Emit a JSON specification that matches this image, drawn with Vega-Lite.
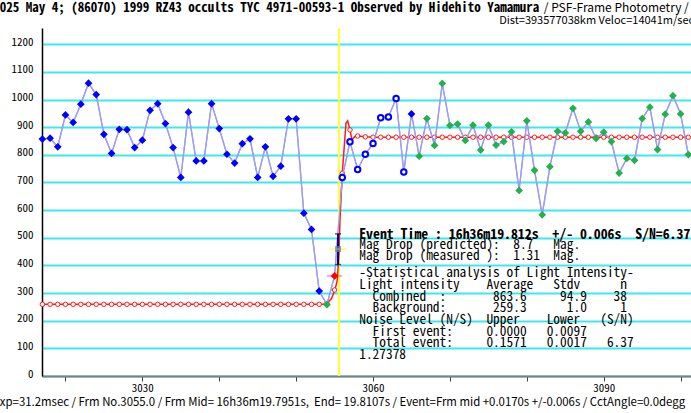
{
  "$schema": "https://vega.github.io/schema/vega-lite/v6.json",
  "width": 649,
  "height": 348,
  "autosize": {"type": "none"},
  "padding": {"left": 42, "top": 28, "right": 0, "bottom": 37},
  "background": "white",
  "config": {"view": {"stroke": null}, "font": "Noto Sans CJK JP"},
  "datasets": {
    "one": [{}],
    "obs": [
      {"f":3017,"v":857,"g":"pre"},{"f":3018,"v":860,"g":"pre"},{"f":3019,"v":829,"g":"pre"},{"f":3020,"v":944,"g":"pre"},
      {"f":3021,"v":917,"g":"pre"},{"f":3022,"v":983,"g":"pre"},{"f":3023,"v":1059,"g":"pre"},{"f":3024,"v":1018,"g":"pre"},
      {"f":3025,"v":874,"g":"pre"},{"f":3026,"v":805,"g":"pre"},{"f":3027,"v":892,"g":"pre"},{"f":3028,"v":891,"g":"pre"},
      {"f":3029,"v":826,"g":"pre"},{"f":3030,"v":853,"g":"pre"},{"f":3031,"v":961,"g":"pre"},{"f":3032,"v":985,"g":"pre"},
      {"f":3033,"v":913,"g":"pre"},{"f":3034,"v":826,"g":"pre"},{"f":3035,"v":718,"g":"pre"},{"f":3036,"v":954,"g":"pre"},
      {"f":3037,"v":778,"g":"pre"},{"f":3038,"v":778,"g":"pre"},{"f":3039,"v":985,"g":"pre"},{"f":3040,"v":895,"g":"pre"},
      {"f":3041,"v":802,"g":"pre"},{"f":3042,"v":770,"g":"pre"},{"f":3043,"v":840,"g":"pre"},{"f":3044,"v":858,"g":"pre"},
      {"f":3045,"v":718,"g":"pre"},{"f":3046,"v":829,"g":"pre"},{"f":3047,"v":722,"g":"pre"},{"f":3048,"v":759,"g":"pre"},
      {"f":3049,"v":930,"g":"pre"},{"f":3050,"v":930,"g":"pre"},{"f":3051,"v":589,"g":"pre"},{"f":3052,"v":530,"g":"pre"},
      {"f":3053,"v":307,"g":"pre"},{"f":3054,"v":258,"g":"low"},{"f":3055,"v":362,"g":"event"},{"f":3056,"v":718,"g":"open"},
      {"f":3057,"v":847,"g":"open"},{"f":3058,"v":747,"g":"open"},{"f":3059,"v":802,"g":"open"},{"f":3060,"v":841,"g":"open"},
      {"f":3061,"v":934,"g":"open"},{"f":3062,"v":937,"g":"open"},{"f":3063,"v":1004,"g":"open"},{"f":3064,"v":738,"g":"open"},
      {"f":3065,"v":948,"g":"pre"},{"f":3066,"v":795,"g":"post"},{"f":3067,"v":931,"g":"post"},{"f":3068,"v":834,"g":"post"},
      {"f":3069,"v":1058,"g":"post"},{"f":3070,"v":906,"g":"post"},{"f":3071,"v":911,"g":"post"},{"f":3072,"v":852,"g":"post"},
      {"f":3073,"v":907,"g":"post"},{"f":3074,"v":817,"g":"post"},{"f":3075,"v":907,"g":"post"},{"f":3076,"v":835,"g":"post"},
      {"f":3077,"v":848,"g":"post"},{"f":3078,"v":883,"g":"post"},{"f":3079,"v":671,"g":"post"},{"f":3080,"v":923,"g":"post"},
      {"f":3081,"v":744,"g":"post"},{"f":3082,"v":583,"g":"post"},{"f":3083,"v":757,"g":"post"},{"f":3084,"v":885,"g":"post"},
      {"f":3085,"v":879,"g":"post"},{"f":3086,"v":968,"g":"post"},{"f":3087,"v":885,"g":"post"},{"f":3088,"v":919,"g":"post"},
      {"f":3089,"v":859,"g":"post"},{"f":3090,"v":882,"g":"post"},{"f":3091,"v":848,"g":"post"},{"f":3092,"v":734,"g":"post"},
      {"f":3093,"v":787,"g":"post"},{"f":3094,"v":780,"g":"post"},{"f":3095,"v":931,"g":"post"},{"f":3096,"v":972,"g":"post"},
      {"f":3097,"v":819,"g":"post"},{"f":3098,"v":947,"g":"post"},{"f":3099,"v":1014,"g":"post"},{"f":3100,"v":948,"g":"post"},
      {"f":3101,"v":801,"g":"post"}
    ],
    "model": [
      {"f":3017,"v":259.3},{"f":3053.5,"v":259.3},{"f":3054,"v":262},{"f":3054.6,"v":280},{"f":3055.05,"v":311},
      {"f":3055.35,"v":347},{"f":3055.57,"v":444},{"f":3055.7,"v":564},{"f":3056,"v":733},{"f":3056.48,"v":914},
      {"f":3056.7,"v":923},{"f":3057,"v":890},{"f":3057.26,"v":854},{"f":3057.65,"v":866},{"f":3058.08,"v":868},
      {"f":3059,"v":865},{"f":3060,"v":863.6},{"f":3101,"v":863.6}
    ],
    "modelpts": [
      {"f":3017,"v":259.3},{"f":3018,"v":259.3},{"f":3019,"v":259.3},{"f":3020,"v":259.3},{"f":3021,"v":259.3},
      {"f":3022,"v":259.3},{"f":3023,"v":259.3},{"f":3024,"v":259.3},{"f":3025,"v":259.3},{"f":3026,"v":259.3},
      {"f":3027,"v":259.3},{"f":3028,"v":259.3},{"f":3029,"v":259.3},{"f":3030,"v":259.3},{"f":3031,"v":259.3},
      {"f":3032,"v":259.3},{"f":3033,"v":259.3},{"f":3034,"v":259.3},{"f":3035,"v":259.3},{"f":3036,"v":259.3},
      {"f":3037,"v":259.3},{"f":3038,"v":259.3},{"f":3039,"v":259.3},{"f":3040,"v":259.3},{"f":3041,"v":259.3},
      {"f":3042,"v":259.3},{"f":3043,"v":259.3},{"f":3044,"v":259.3},{"f":3045,"v":259.3},{"f":3046,"v":259.3},
      {"f":3047,"v":259.3},{"f":3048,"v":259.3},{"f":3049,"v":259.3},{"f":3050,"v":259.3},{"f":3051,"v":259.3},
      {"f":3052,"v":259.3},{"f":3053,"v":259.3},{"f":3054,"v":262},{"f":3055,"v":311},{"f":3056,"v":733},
      {"f":3057,"v":890},{"f":3058,"v":868},{"f":3059,"v":865},{"f":3060,"v":863.6},{"f":3061,"v":863.6},
      {"f":3062,"v":863.6},{"f":3063,"v":863.6},{"f":3064,"v":863.6},{"f":3065,"v":863.6},{"f":3066,"v":863.6},
      {"f":3067,"v":863.6},{"f":3068,"v":863.6},{"f":3069,"v":863.6},{"f":3070,"v":863.6},{"f":3071,"v":863.6},
      {"f":3072,"v":863.6},{"f":3073,"v":863.6},{"f":3074,"v":863.6},{"f":3075,"v":863.6},{"f":3076,"v":863.6},
      {"f":3077,"v":863.6},{"f":3078,"v":863.6},{"f":3079,"v":863.6},{"f":3080,"v":863.6},{"f":3081,"v":863.6},
      {"f":3082,"v":863.6},{"f":3083,"v":863.6},{"f":3084,"v":863.6},{"f":3085,"v":863.6},{"f":3086,"v":863.6},
      {"f":3087,"v":863.6},{"f":3088,"v":863.6},{"f":3089,"v":863.6},{"f":3090,"v":863.6},{"f":3091,"v":863.6},
      {"f":3092,"v":863.6},{"f":3093,"v":863.6},{"f":3094,"v":863.6},{"f":3095,"v":863.6},{"f":3096,"v":863.6},
      {"f":3097,"v":863.6},{"f":3098,"v":863.6},{"f":3099,"v":863.6},{"f":3100,"v":863.6},{"f":3101,"v":863.6}
    ]
  },
  "layer": [
    {
      "data": {"name": "obs"},
      "mark": {"type": "line", "color": "#9c9cf4", "strokeWidth": 1.3},
      "encoding": {
        "x": {"field": "f", "type": "quantitative",
          "scale": {"domain": [3016.95, 3101.35], "nice": false, "zero": false},
          "axis": {
            "values": [3020, 3030, 3040, 3050, 3060, 3070, 3080, 3090, 3100],
            "tickCount": 9,
            "labelExpr": "datum.value % 30 == 0 ? datum.label : ''",
            "format": "d",
            "grid": false,
            "domainColor": "#808080", "domainWidth": 2,
            "tickColor": "#404040", "tickSize": 5, "tickWidth": 1,
            "labelFont": "Noto Sans Mono CJK JP", "labelFontSize": 11, "labelColor": "#000000", "labelPadding": 1,
            "title": "Exp=31.2msec / Frm No.3055.0 / Frm Mid= 16h36m19.7951s,\u00a0\u00a0End= 19.8107s / Event=Frm mid +0.0170s +/-0.006s / CctAngle=0.0degg",
            "titleFont": "Noto Sans CJK JP", "titleFontSize": 11.4, "titleFontWeight": "normal", "titleColor": "#000000",
            "titleX": -49, "titleY": 26, "titleAlign": "left", "titleBaseline": "middle"
          }
        },
        "y": {"field": "v", "type": "quantitative",
          "scale": {"domain": [0, 1258.6], "nice": false, "zero": true},
          "axis": {
            "values": [0, 100, 200, 300, 400, 500, 600, 700, 800, 900, 1000, 1100, 1200],
            "tickCount": 13,
            "format": "d",
            "labelOverlap": false,
            "grid": true, "gridColor": "#3ee8ee", "gridWidth": 2,
            "domainColor": "#000000", "domainWidth": 1.5,
            "ticks": false, "labelPadding": 9, "labelOffset": -2,
            "labelFont": "Noto Sans Mono CJK JP", "labelFontSize": 11, "labelColor": "#000000",
            "title": ""
          }
        }
      }
    },
    {
      "data": {"name": "one"},
      "mark": {"type": "rule", "color": "#ffff33", "strokeWidth": 2},
      "encoding": {"x": {"datum": 3055.57, "type": "quantitative"}}
    },
    {
      "data": {"name": "model"},
      "mark": {"type": "line", "color": "#ff1a1a", "strokeWidth": 1.5},
      "encoding": {
        "x": {"field": "f", "type": "quantitative"},
        "y": {"field": "v", "type": "quantitative"}
      }
    },
    {
      "data": {"name": "modelpts"},
      "mark": {"type": "point", "shape": "circle", "size": 20, "stroke": "#ff1a1a", "strokeWidth": 1, "fill": "#ffffff", "filled": true, "opacity": 1},
      "encoding": {
        "x": {"field": "f", "type": "quantitative"},
        "y": {"field": "v", "type": "quantitative"}
      }
    },
    {
      "data": {"name": "obs"},
      "mark": {"type": "line", "color": "#9c9cf4", "strokeWidth": 1.3},
      "encoding": {
        "x": {"field": "f", "type": "quantitative"},
        "y": {"field": "v", "type": "quantitative"}
      }
    },
    {
      "data": {"name": "one"},
      "mark": {"type": "tick", "orient": "horizontal", "color": "#ff44ff", "size": 15, "thickness": 1.5},
      "encoding": {
        "x": {"datum": 3055, "type": "quantitative"},
        "y": {"datum": 362, "type": "quantitative"}
      }
    },
    {
      "data": {"name": "obs"},
      "transform": [{"filter": "datum.g != 'open'"}],
      "mark": {"type": "point", "shape": "diamond", "size": 60, "filled": true, "opacity": 1, "strokeWidth": 1},
      "encoding": {
        "x": {"field": "f", "type": "quantitative"},
        "y": {"field": "v", "type": "quantitative"},
        "color": {"field": "g", "type": "nominal", "legend": null,
          "scale": {"domain": ["pre", "low", "event", "post"], "range": ["#0000ff", "#22b14c", "#ff0000", "#22b14c"]}}
      }
    },
    {
      "data": {"name": "obs"},
      "transform": [{"filter": "datum.g == 'open'"}],
      "mark": {"type": "point", "shape": "circle", "size": 30, "filled": false, "fill": "#ffffff", "stroke": "#0000ff", "strokeWidth": 2, "opacity": 1},
      "encoding": {
        "x": {"field": "f", "type": "quantitative"},
        "y": {"field": "v", "type": "quantitative"}
      }
    },
    {
      "data": {"name": "one"},
      "mark": {"type": "rule", "color": "#000080", "strokeWidth": 2},
      "encoding": {
        "x": {"datum": 3055.45, "type": "quantitative"},
        "y": {"datum": 403, "type": "quantitative"},
        "y2": {"datum": 514}
      }
    },
    {
      "data": {"name": "one"},
      "mark": {"type": "tick", "orient": "horizontal", "color": "#000080", "size": 6, "thickness": 1.5},
      "encoding": {
        "x": {"datum": 3055.45, "type": "quantitative"},
        "y": {"datum": 403, "type": "quantitative"}
      }
    },
    {
      "data": {"name": "one"},
      "mark": {"type": "tick", "orient": "horizontal", "color": "#000080", "size": 6, "thickness": 1.5},
      "encoding": {
        "x": {"datum": 3055.45, "type": "quantitative"},
        "y": {"datum": 514, "type": "quantitative"}
      }
    },
    {
      "data": {"name": "one"},
      "mark": {"type": "tick", "orient": "horizontal", "color": "#ffff44", "size": 17, "thickness": 2},
      "encoding": {
        "x": {"datum": 3055.45, "type": "quantitative"},
        "y": {"datum": 459, "type": "quantitative"}
      }
    },
    {
      "data": {"name": "one"},
      "mark": {"type": "point", "shape": "square", "size": 36, "filled": true, "color": "#6a7fa8", "opacity": 0.75},
      "encoding": {
        "x": {"datum": 3055.45, "type": "quantitative"},
        "y": {"datum": 459, "type": "quantitative"}
      }
    },
    {
      "data": {"name": "one"},
      "mark": {"type": "text", "align": "left", "baseline": "middle", "font": "Noto Sans Mono CJK JP", "fontWeight": "bold", "fontSize": 13, "color": "#000000"},
      "encoding": {
        "x": {"datum": 3010.6, "type": "quantitative"},
        "y": {"datum": 1331, "type": "quantitative"},
        "text": {"value": "2025 May 4; (86070) 1999 RZ43 occults TYC 4971-00593-1 Observed by Hidehito Yamamura"}
      }
    },
    {
      "data": {"name": "one"},
      "mark": {"type": "text", "align": "left", "baseline": "middle", "font": "Noto Sans CJK JP", "fontSize": 12, "color": "#000000"},
      "encoding": {
        "x": {"datum": 3082.2, "type": "quantitative"},
        "y": {"datum": 1331, "type": "quantitative"},
        "text": {"value": "/ PSF-Frame Photometry /"}
      }
    },
    {
      "data": {"name": "one"},
      "mark": {"type": "text", "align": "left", "baseline": "middle", "font": "Noto Sans CJK JP", "fontSize": 11, "color": "#000000"},
      "encoding": {
        "x": {"datum": 3076.4, "type": "quantitative"},
        "y": {"datum": 1284, "type": "quantitative"},
        "text": {"value": "Dist=393577038km Veloc=14041m/sec"}
      }
    },
    {
      "data": {"name": "one"},
      "mark": {"type": "text", "align": "left", "baseline": "alphabetic", "font": "Noto Sans Mono CJK JP", "fontWeight": "bold", "fontSize": 13.8, "color": "#000000"},
      "encoding": {
        "x": {"datum": 3058.2, "type": "quantitative"},
        "y": {"datum": 497, "type": "quantitative"},
        "text": {"value": "Event Time : 16h36m19.812s\u00a0\u00a0+/- 0.006s\u00a0\u00a0S/N=6.37"}
      }
    },
    {
      "data": {"name": "one"},
      "mark": {"type": "text", "align": "left", "baseline": "alphabetic", "font": "Noto Sans Mono CJK JP", "fontSize": 13.4, "lineHeight": 11, "color": "#000000"},
      "encoding": {
        "x": {"datum": 3058.2, "type": "quantitative"},
        "y": {"datum": 459, "type": "quantitative"},
        "text": {"value": ["Mag Drop (predicted):\u00a0\u00a08.7\u00a0\u00a0\u00a0Mag.", "Mag Drop (measured\u00a0):\u00a0\u00a01.31\u00a0\u00a0Mag."]}
      }
    },
    {
      "data": {"name": "one"},
      "mark": {"type": "text", "align": "left", "baseline": "alphabetic", "font": "Noto Sans Mono CJK JP", "fontSize": 13.4, "lineHeight": 11.7, "color": "#000000"},
      "encoding": {
        "x": {"datum": 3058.2, "type": "quantitative"},
        "y": {"datum": 357, "type": "quantitative"},
        "text": {"value": [
          "-Statistical analysis of Light Intensity-",
          "Light intensity\u00a0\u00a0\u00a0\u00a0Average\u00a0\u00a0\u00a0Stdv\u00a0\u00a0\u00a0\u00a0\u00a0\u00a0n",
          "\u200b\u00a0\u00a0Combined\u00a0\u00a0:\u00a0\u00a0\u00a0\u00a0\u00a0\u00a0\u00a0863.6\u00a0\u00a0\u00a0\u00a0\u00a094.9\u00a0\u00a0\u00a0\u00a038",
          "\u200b\u00a0\u00a0Background:\u00a0\u00a0\u00a0\u00a0\u00a0\u00a0\u00a0259.3\u00a0\u00a0\u00a0\u00a0\u00a0\u00a01.0\u00a0\u00a0\u00a0\u00a0\u00a01",
          "Noise Level (N/S)\u00a0\u00a0Upper\u00a0\u00a0\u00a0\u00a0Lower\u00a0\u00a0\u00a0(S/N)",
          "\u200b\u00a0\u00a0First event:\u00a0\u00a0\u00a0\u00a0\u00a00.0000\u00a0\u00a0\u00a00.0097",
          "\u200b\u00a0\u00a0Total event:\u00a0\u00a0\u00a0\u00a0\u00a00.1571\u00a0\u00a0\u00a00.0017\u00a0\u00a0\u00a06.37",
          "1.27378"
        ]}
      }
    }
  ]
}
